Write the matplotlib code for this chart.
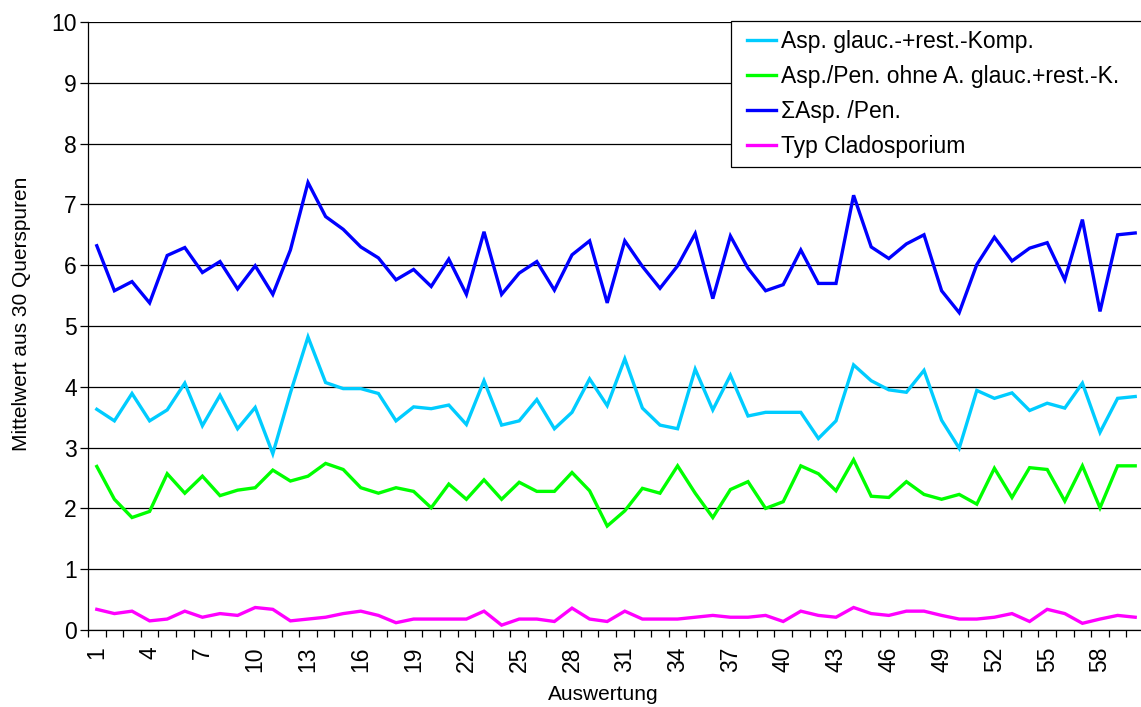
import matplotlib
matplotlib.use("Agg")
import matplotlib.pyplot as plt
from matplotlib.legend_handler import HandlerLine2D
import numpy as np

plt.rcParams["font.family"] = ["Liberation Sans", "DejaVu Sans"]

# Auswertungen 1..60
auswertung = list(range(1, 61))

asp_glauc = [3.63, 3.44, 3.89, 3.44, 3.62, 4.06, 3.36, 3.86, 3.31, 3.66,
             2.90, 3.90, 4.82, 4.07, 3.97, 3.97, 3.89, 3.44, 3.67, 3.64,
             3.70, 3.38, 4.10, 3.37, 3.44, 3.79, 3.31, 3.58, 4.13, 3.69,
             4.46, 3.65, 3.37, 3.31, 4.29, 3.62, 4.19, 3.52, 3.58, 3.58,
             3.58, 3.15, 3.44, 4.36, 4.10, 3.95, 3.91, 4.27, 3.45, 2.99,
             3.94, 3.81, 3.90, 3.61, 3.73, 3.65, 4.06, 3.25, 3.81, 3.84]

asp_pen_ohne = [2.69, 2.15, 1.85, 1.95, 2.57, 2.25, 2.53, 2.21, 2.30, 2.34,
                2.63, 2.45, 2.53, 2.74, 2.64, 2.34, 2.25, 2.34, 2.28, 2.01,
                2.40, 2.15, 2.47, 2.15, 2.43, 2.28, 2.28, 2.59, 2.29, 1.71,
                1.96, 2.33, 2.25, 2.70, 2.25, 1.85, 2.31, 2.44, 2.00, 2.11,
                2.70, 2.57, 2.29, 2.80, 2.20, 2.18, 2.44, 2.23, 2.15, 2.23,
                2.07, 2.66, 2.18, 2.67, 2.64, 2.12, 2.70, 2.01, 2.70, 2.70]

sum_asp_pen = [6.32, 5.58, 5.73, 5.38, 6.16, 6.29, 5.88, 6.06, 5.61, 5.99,
               5.52, 6.25, 7.36, 6.80, 6.59, 6.30, 6.12, 5.76, 5.93, 5.65,
               6.10, 5.52, 6.55, 5.52, 5.87, 6.06, 5.59, 6.17, 6.40, 5.38,
               6.40, 5.98, 5.62, 5.99, 6.52, 5.45, 6.48, 5.95, 5.58, 5.68,
               6.25, 5.70, 5.70, 7.15, 6.30, 6.11, 6.35, 6.50, 5.58, 5.22,
               6.01, 6.46, 6.07, 6.28, 6.37, 5.76, 6.75, 5.24, 6.50, 6.53]

cladosporium = [0.34, 0.27, 0.31, 0.15, 0.18, 0.31, 0.21, 0.27, 0.24, 0.37,
                0.34, 0.15, 0.18, 0.21, 0.27, 0.31, 0.24, 0.12, 0.18, 0.18,
                0.18, 0.18, 0.31, 0.08, 0.18, 0.18, 0.14, 0.36, 0.18, 0.14,
                0.31, 0.18, 0.18, 0.18, 0.21, 0.24, 0.21, 0.21, 0.24, 0.14,
                0.31, 0.24, 0.21, 0.37, 0.27, 0.24, 0.31, 0.31, 0.24, 0.18,
                0.18, 0.21, 0.27, 0.14, 0.34, 0.27, 0.11, 0.18, 0.24, 0.21]

series = [
    ("Asp. glauc.-+rest.-Komp.", asp_glauc, "#00CCFF"),
    ("Asp./Pen. ohne A. glauc.+rest.-K.", asp_pen_ohne, "#00FF00"),
    ("\u03a3Asp. /Pen.", sum_asp_pen, "#0000FF"),
    ("Typ Cladosporium", cladosporium, "#FF00FF"),
]

TICK_FS = 16.5
LABEL_FS = 15


class IndentedLine(HandlerLine2D):
    """Legend line drawn with a small indent from the left of its handle box."""

    def __init__(self, indent=5.0, **kw):
        super().__init__(**kw)
        self.indent = indent

    def create_artists(self, legend, orig_handle, xdescent, ydescent,
                       width, height, fontsize, trans):
        artists = super().create_artists(legend, orig_handle, xdescent, ydescent,
                                         width, height, fontsize, trans)
        for a in artists:
            xd = np.asarray(a.get_xdata(), dtype=float)
            if xd.size >= 2:
                a.set_xdata(np.linspace(xd[0] + self.indent, xd[-1], xd.size))
        return artists


W, H = 1141, 707
fig = plt.figure(figsize=(W / 100, H / 100), dpi=100)
left, right, top, bottom = 88, 1144, 22, 630
ax = fig.add_axes([left / W, (H - bottom) / H, (right - left) / W, (bottom - top) / H])

lines = []
for label, vals, color in series:
    ln, = ax.plot(auswertung, vals, color=color, lw=2.4, label=label,
                  solid_joinstyle="miter", zorder=3)
    lines.append(ln)

ax.set_xlim(0.5, 60.5)
ax.set_ylim(0, 10)

# horizontal grid
ax.set_yticks(range(0, 11))
ax.yaxis.grid(True, color="#000000", lw=0.9, zorder=1)
ax.set_axisbelow(True)

# category boundaries as tick marks, labels every third category
ax.set_xticks(np.arange(0.5, 61, 1.0))
ax.set_xticklabels([])
ax.tick_params(axis="x", which="major", direction="out", length=5, width=0.9, color="#000000")
ax.set_xticks(auswertung[::3], minor=True)
ax.set_xticklabels([str(v) for v in auswertung[::3]], minor=True, rotation=90,
                   fontsize=TICK_FS)
ax.tick_params(axis="x", which="minor", length=0, pad=12)
ax.tick_params(axis="y", direction="out", length=6, width=0.9, labelsize=TICK_FS, pad=2)

for s in ("top", "right"):
    ax.spines[s].set_visible(False)
for s in ("left", "bottom"):
    ax.spines[s].set_color("#000000")
    ax.spines[s].set_linewidth(0.9)

ax.set_ylabel("Mittelwert aus 30 Querspuren", fontsize=LABEL_FS)
ax.yaxis.set_label_coords(-57 / (right - left), 0.52)
ax.set_xlabel("Auswertung", fontsize=LABEL_FS)
ax.xaxis.set_label_coords((603 - left) / (right - left), -55 / (bottom - top))

leg_x0, leg_x1 = 731, 1152
leg = ax.legend(handles=lines, loc="upper left",
                bbox_to_anchor=(leg_x0 / W, 1 - 21 / H, (leg_x1 - leg_x0) / W, 0.0),
                bbox_transform=fig.transFigure, mode="expand",
                fontsize=TICK_FS, frameon=True,
                fancybox=False, edgecolor="#000000", framealpha=1,
                handlelength=1.57, handletextpad=0.22, labelspacing=0.53,
                borderpad=0.38, borderaxespad=0,
                handler_map={ln: IndentedLine(indent=5.0) for ln in lines})
leg.get_frame().set_linewidth(0.9)
for line in leg.get_lines():
    line.set_linewidth(2.4)

fig.savefig("out.png", dpi=100)
